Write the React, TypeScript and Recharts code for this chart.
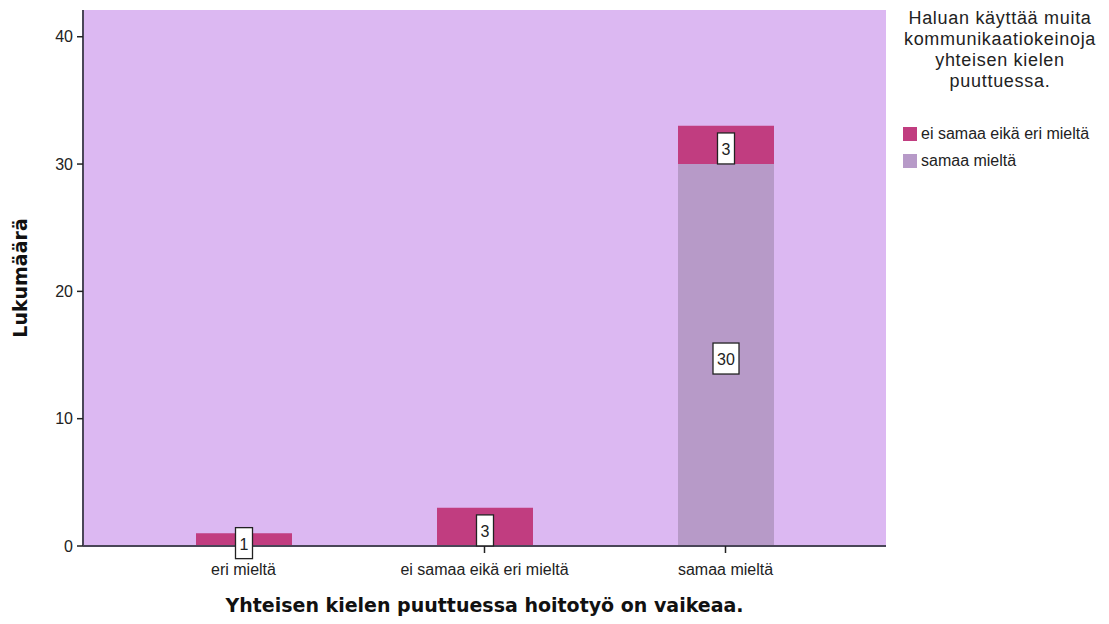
import React from "react";
import {
  BarChart,
  Bar,
  XAxis,
  YAxis,
  CartesianGrid,
  LabelList,
} from "recharts";

// kategoriat (x-akseli)
const categories = ["eri mieltä", "ei samaa eikä eri mieltä", "samaa mieltä"];
// sarjat
const neutralCounts = [1, 3, 3];
const agreeCounts = [0, 0, 30];
const yTicks = [0, 10, 20, 30, 40];

const legendTitle = "Haluan käyttää muita kommunikaatiokeinoja yhteisen kielen puuttuessa.";
const seriesNames = ["ei samaa eikä eri mieltä", "samaa mieltä"];

const PLOT_BG = "#dcb8f2";
const NEUTRAL = "#c13d80";
const AGREE = "#b79ac8";
const FRAME = "#4a4658";
const FONT = "'Liberation Sans', Arial, sans-serif";
const BOLD_FONT = "'DejaVu Sans', Verdana, sans-serif";

const data = categories.map((category, i) => ({
  category,
  neutral: neutralCounts[i],
  agree: agreeCounts[i],
}));

function BoxLabel(props: any) {
  const { x, y, width, height, value } = props;
  if (!value) return null;
  const cx = Number(x) + Number(width) / 2;
  const cy = Number(y) + Number(height) / 2 + 3.5;
  const text = String(value);
  const w = text.length * 9 + 8;
  const h = 31;
  return (
    <g>
      <rect
        x={cx - w / 2}
        y={cy - h / 2}
        width={w}
        height={h}
        fill="#ffffff"
        stroke="#222"
        strokeWidth={1.3}
      />
      <text
        x={cx}
        y={cy + 1}
        textAnchor="middle"
        dominantBaseline="central"
        fontSize={16}
        fontFamily={FONT}
        fill="#222"
      >
        {text}
      </text>
    </g>
  );
}

export default function App() {
  return (
    <div style={{ position: "relative", width: 1101, height: 616, marginBottom: -8 }}>
      <BarChart
        width={1101}
        height={616}
        data={data}
        margin={{ top: 2, right: 223, left: 0, bottom: 0 }}
        barSize={96}
      >
        <CartesianGrid fill={PLOT_BG} horizontal={false} vertical={false} />
        <XAxis
          dataKey="category"
          padding={{ left: 40, right: 40 }}
          height={78}
          tickSize={7}
          tickMargin={11}
          tickLine={{ stroke: "#222", strokeWidth: 1.5 }}
          axisLine={{ stroke: FRAME, strokeWidth: 2 }}
          tick={{ fontSize: 16, fontFamily: FONT, fill: "#222" }}
          interval={0}
          label={{
            value: "Yhteisen kielen puuttuessa hoitotyö on vaikeaa.",
            position: "insideBottom",
            offset: 12,
            fontSize: 19,
            fontWeight: "bold",
            fontFamily: BOLD_FONT,
            fill: "#111",
          }}
        />
        <XAxis
          xAxisId="top"
          orientation="top"
          dataKey="category"
          height={0}
          tick={false}
          tickLine={false}
          axisLine={{ stroke: FRAME, strokeWidth: 2 }}
        />
        <YAxis
          type="number"
          domain={[0, 42.1]}
          ticks={yTicks}
          width={75}
          tickSize={6}
          tickMargin={4}
          tickLine={{ stroke: "#222", strokeWidth: 1.5 }}
          axisLine={{ stroke: FRAME, strokeWidth: 2 }}
          tick={{ fontSize: 16, fontFamily: FONT, fill: "#222" }}
          allowDataOverflow
          label={{
            value: "Lukumäärä",
            angle: -90,
            position: "insideLeft",
            offset: 12,
            fontSize: 19,
            fontWeight: "bold",
            fontFamily: BOLD_FONT,
            fill: "#111",
            style: { textAnchor: "middle" },
          }}
        />
        <YAxis
          yAxisId="right"
          orientation="right"
          type="number"
          domain={[0, 42.1]}
          width={0}
          tick={false}
          tickLine={false}
          axisLine={{ stroke: FRAME, strokeWidth: 2 }}
        />
        <Bar dataKey="agree" stackId="a" fill={AGREE} isAnimationActive={false}>
          <LabelList dataKey="agree" content={BoxLabel} />
        </Bar>
        <Bar dataKey="neutral" stackId="a" fill={NEUTRAL} isAnimationActive={false}>
          <LabelList dataKey="neutral" content={BoxLabel} />
        </Bar>
      </BarChart>
      <div
        style={{
          position: "absolute",
          left: 885,
          top: 0,
          width: 214,
          fontFamily: FONT,
          color: "#222",
        }}
      >
        <div
          style={{
            textAlign: "center",
            fontSize: 18,
            lineHeight: "21px",
            letterSpacing: 0.7,
            padding: "0 2px",
          }}
        >
          {legendTitle}
        </div>
        <div style={{ marginTop: 28, paddingLeft: 10 }}>
          {seriesNames.map((name, i) => (
            <div
              key={name}
              style={{ display: "flex", alignItems: "center", height: 27, fontSize: 16 }}
            >
              <span
                style={{
                  display: "inline-block",
                  width: 14,
                  height: 14,
                  background: i === 0 ? NEUTRAL : AGREE,
                  marginRight: 4,
                }}
              />
              {name}
            </div>
          ))}
        </div>
      </div>
    </div>
  );
}
